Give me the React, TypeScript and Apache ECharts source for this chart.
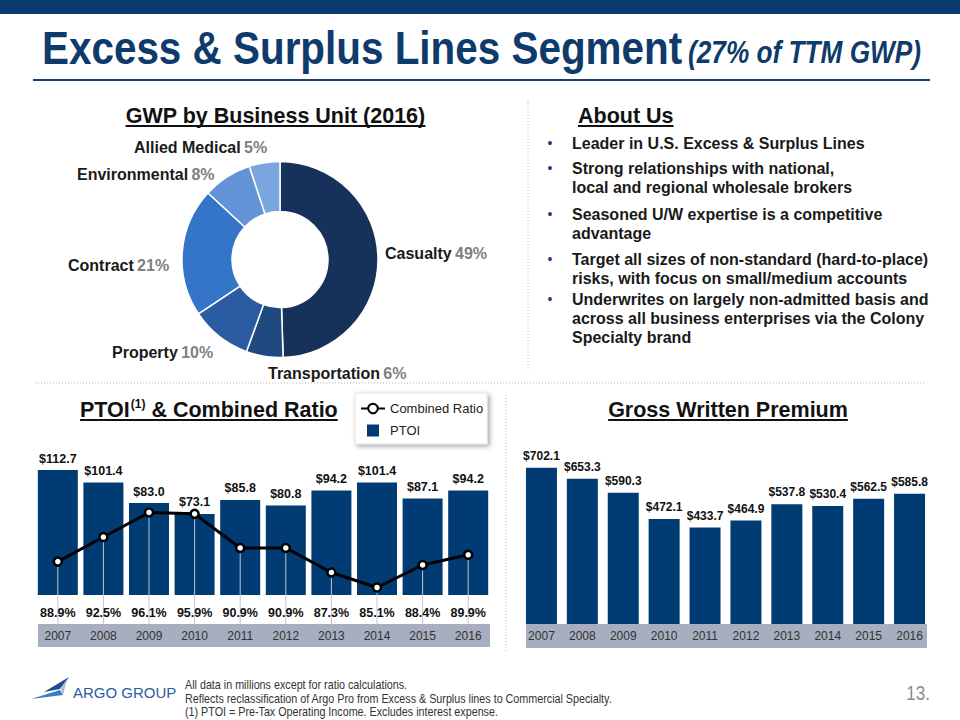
import React, { useEffect, useRef } from 'react';
import * as echarts from 'echarts';

const FONT = "'Liberation Sans', Arial, Helvetica, sans-serif";

// ---- Data ----
const unitNames = ['Casualty', 'Transportation', 'Property', 'Contract', 'Environmental', 'Allied Medical'];
const unitShares = [49, 6, 10, 21, 8, 5];
const unitColors = ['#17325A', '#1F4A80', '#2B5CA1', '#3475C7', '#6193D6', '#7AA5DE'];

const years = ['2007', '2008', '2009', '2010', '2011', '2012', '2013', '2014', '2015', '2016'];
const ptoi = [112.7, 101.4, 83.0, 73.1, 85.8, 80.8, 94.2, 101.4, 87.1, 94.2];
const combinedRatio = [88.9, 92.5, 96.1, 95.9, 90.9, 90.9, 87.3, 85.1, 88.4, 89.9];
const gwp = [702.1, 653.3, 590.3, 472.1, 433.7, 464.9, 537.8, 530.4, 562.5, 585.8];

const aboutBullets = [
  ['Leader in U.S. Excess & Surplus Lines'],
  ['Strong relationships with national,', 'local and regional wholesale brokers'],
  ['Seasoned U/W expertise is a competitive', 'advantage'],
  ['Target all sizes of non-standard (hard-to-place)', 'risks, with focus on small/medium accounts'],
  ['Underwrites on largely non-admitted basis and', 'across all business enterprises via the Colony', 'Specialty brand'],
];

const footnotes = [
  'All data in millions except for ratio calculations.',
  'Reflects reclassification of Argo Pro from Excess & Surplus lines to Commercial Specialty.',
  '(1) PTOI = Pre-Tax Operating Income. Excludes interest expense.',
];

// label layout positions (left x, centre y) for donut labels
const unitLabelPos = [
  [385, 253],
  [268, 373],
  [112, 352],
  [68, 265],
  [77, 174],
  [134, 147],
];
const bulletLineY = [[143], [168, 187], [214, 233], [259, 278], [299, 318, 337]];

const NAVY = '#003B73';
const BAND = '#A7AEC0';

function measure(text: string, font: string): number {
  const c = document.createElement('canvas').getContext('2d');
  if (!c) return text.length * 8;
  c.font = font;
  return c.measureText(text).width;
}

function buildGraphic(): any[] {
  const el: any[] = [];
  // top bar
  el.push({ type: 'rect', shape: { x: 0, y: 0, width: 960, height: 14 }, style: { fill: '#0B3A6E' } });

  // title
  const tMain = 'Excess & Surplus Lines Segment';
  const tSub = '(27% of TTM GWP)';
  const wMain = measure(tMain, `bold 47px ${FONT}`);
  const wSub = measure(tSub, `italic bold 31px ${FONT}`);
  el.push({
    type: 'text', x: 42, y: 47, scaleX: 640 / wMain,
    style: { text: tMain, fill: '#0E3A6C', fontSize: 47, fontWeight: 'bold', fontFamily: FONT, align: 'left', verticalAlign: 'middle' },
  });
  el.push({
    type: 'text', x: 688, y: 52, scaleX: 233 / wSub,
    style: { text: tSub, fill: '#0E3A6C', fontSize: 31, fontWeight: 'bold', fontStyle: 'italic', fontFamily: FONT, align: 'left', verticalAlign: 'middle' },
  });
  el.push({ type: 'line', shape: { x1: 33, y1: 80, x2: 930, y2: 80 }, style: { stroke: '#1B3F6E', lineWidth: 2 } });

  // headings
  const HF = 21.5;
  const headFont = `bold ${HF}px ${FONT}`;
  const heading = (text: string, x: number, y: number, align: 'left' | 'center', uy: number) => {
    const w = measure(text, headFont);
    const x0 = align === 'center' ? x - w / 2 : x;
    el.push({ type: 'text', x, y, style: { text, fill: '#111', fontSize: HF, fontWeight: 'bold', fontFamily: FONT, align, verticalAlign: 'middle' } });
    el.push({ type: 'line', shape: { x1: x0, y1: uy, x2: x0 + w, y2: uy }, style: { stroke: '#111', lineWidth: 2 } });
  };
  heading('GWP by Business Unit (2016)', 275.5, 116, 'center', 126);
  heading('About Us', 578, 116, 'left', 126);
  heading('Gross Written Premium', 728, 410, 'center', 420);

  // PTOI heading with superscript
  {
    const x0 = 80;
    const w1 = measure('PTOI', headFont);
    const w2 = measure('(1)', `bold 12px ${FONT}`);
    const t3 = ' & Combined Ratio';
    const w3 = measure(t3, headFont);
    el.push({ type: 'text', x: x0, y: 410, style: { text: 'PTOI', fill: '#111', fontSize: HF, fontWeight: 'bold', fontFamily: FONT, verticalAlign: 'middle' } });
    el.push({ type: 'text', x: x0 + w1 + 1, y: 404, style: { text: '(1)', fill: '#111', fontSize: 12, fontWeight: 'bold', fontFamily: FONT, verticalAlign: 'middle' } });
    el.push({ type: 'text', x: x0 + w1 + w2 + 1, y: 410, style: { text: t3, fill: '#111', fontSize: HF, fontWeight: 'bold', fontFamily: FONT, verticalAlign: 'middle' } });
    el.push({ type: 'line', shape: { x1: x0, y1: 420, x2: x0 + w1 + w2 + 1 + w3, y2: 420 }, style: { stroke: '#111', lineWidth: 2 } });
  }

  // dotted separators
  const dot = { stroke: '#B8B8B8', lineWidth: 1, lineDash: [1, 2] };
  el.push({ type: 'line', shape: { x1: 528, y1: 100, x2: 528, y2: 372 }, style: dot });
  el.push({ type: 'line', shape: { x1: 35, y1: 383, x2: 925, y2: 383 }, style: dot });
  el.push({ type: 'line', shape: { x1: 506, y1: 395, x2: 506, y2: 652 }, style: dot });

  // donut labels
  unitNames.forEach((n, i) => {
    el.push({
      type: 'text', x: unitLabelPos[i][0], y: unitLabelPos[i][1],
      style: {
        text: `{n|${n}} {p|${unitShares[i]}%}`, align: 'left', verticalAlign: 'middle',
        rich: {
          n: { fontSize: 16, fontWeight: 'bold', fill: '#1A1A1A', fontFamily: FONT },
          p: { fontSize: 16, fontWeight: 'bold', fill: '#7F7F7F', fontFamily: FONT },
        },
      },
    });
  });

  // bullets
  aboutBullets.forEach((lines, bi) => {
    el.push({ type: 'text', x: 550, y: bulletLineY[bi][0], style: { text: '•', fill: '#1F3B70', fontSize: 14, fontFamily: FONT, align: 'center', verticalAlign: 'middle' } });
    lines.forEach((ln, li) => {
      el.push({ type: 'text', x: 572, y: bulletLineY[bi][li], style: { text: ln, fill: '#1A1A1A', fontSize: 16, fontWeight: 'bold', fontFamily: FONT, verticalAlign: 'middle' } });
    });
  });

  // category bands
  el.push({ type: 'rect', z: -10, shape: { x: 38, y: 624, width: 452, height: 23 }, style: { fill: BAND } });
  el.push({ type: 'rect', z: -10, shape: { x: 526, y: 624, width: 401, height: 24 }, style: { fill: BAND } });

  // footer logo
  el.push({ type: 'polygon', shape: { points: [[69, 677], [44, 692], [60, 689]] }, style: { fill: '#1D4E96' } });
  el.push({ type: 'polygon', shape: { points: [[60, 690], [31, 699], [63, 695]] }, style: { fill: '#3A7CC9' } });
  el.push({ type: 'polygon', shape: { points: [[69, 677], [61, 689], [63, 695], [66, 683]] }, style: { fill: '#A9B9CD' } });
  el.push({ type: 'text', x: 73, y: 692, style: { text: 'ARGO GROUP', fill: '#2C5C9E', fontSize: 15, fontFamily: FONT, verticalAlign: 'middle' } });

  // footnotes
  const fnFont = `12px ${FONT}`;
  const fnScale = 428 / measure(footnotes[1], fnFont);
  const fnY = [685, 699, 712];
  footnotes.forEach((t, i) => {
    el.push({ type: 'text', x: 185, y: fnY[i], scaleX: fnScale, style: { text: t, fill: '#333', fontSize: 12, fontFamily: FONT, verticalAlign: 'middle' } });
  });
  el.push({ type: 'text', x: 930, y: 693, scaleX: 0.85, style: { text: '13.', fill: '#8C8C8C', fontSize: 20, fontFamily: FONT, align: 'right', verticalAlign: 'middle' } });

  return el;
}

const crMin = 84;
const crMax = 103.5;

export default function App() {
  const ref = useRef<HTMLDivElement>(null);
  useEffect(() => {
    if (!ref.current) return;
    const chart = echarts.init(ref.current, undefined, { renderer: 'svg' });
    const option: any = {
      animation: false,
      textStyle: { fontFamily: FONT },
      legend: {
        left: 355, top: 393, orient: 'vertical',
        itemWidth: 24, itemHeight: 12, itemGap: 9,
        padding: [9, 4, 7, 5],
        backgroundColor: '#fff', borderColor: '#E2E2E2', borderWidth: 1,
        shadowBlur: 5, shadowColor: 'rgba(0,0,0,0.35)', shadowOffsetX: 2, shadowOffsetY: 2,
        textStyle: { fontSize: 13, color: '#222', fontFamily: FONT },
        selectedMode: false,
        data: [{ name: 'Combined Ratio' }, { name: 'PTOI', icon: 'path://M0,0H10V10H0Z' }],
      },
      grid: [
        { left: 35, top: 462, width: 456, height: 133 },
        { left: 521, top: 446, width: 409, height: 178 },
      ],
      xAxis: [
        {
          type: 'category', gridIndex: 0, data: years, z: 10,
          axisLine: { show: false }, axisTick: { show: false },
          axisLabel: { margin: 35, fontSize: 12, color: '#333', fontFamily: FONT },
        },
        {
          type: 'category', gridIndex: 1, data: years, z: 10,
          axisLine: { show: false }, axisTick: { show: false },
          axisLabel: { margin: 6, fontSize: 12, color: '#333', fontFamily: FONT },
        },
      ],
      yAxis: [
        { type: 'value', gridIndex: 0, min: 0, max: 120, show: false },
        { type: 'value', gridIndex: 0, min: crMin, max: crMax, show: false },
        { type: 'value', gridIndex: 1, min: 0, max: 800, show: false },
      ],
      graphic: { elements: buildGraphic() },
      series: [
        {
          type: 'pie', name: 'GWP by Business Unit', center: [280, 259.5], radius: [48, 98],
          startAngle: 90, clockwise: true, silent: true,
          label: { show: false }, labelLine: { show: false },
          itemStyle: { borderColor: '#fff', borderWidth: 1.5 },
          data: unitNames.map((n, i) => ({ name: n, value: unitShares[i], itemStyle: { color: unitColors[i] } })),
        },
        {
          type: 'bar', name: 'PTOI', xAxisIndex: 0, yAxisIndex: 0, data: ptoi, barWidth: 40, z: 1,
          itemStyle: { color: NAVY }, silent: true,
          label: {
            show: true, position: 'top', distance: 5, fontSize: 12.5, fontWeight: 'bold', color: '#111', fontFamily: FONT,
            formatter: (p: any) => '$' + Number(p.value).toFixed(1),
          },
        },
        {
          type: 'custom', name: 'CR drop', xAxisIndex: 0, yAxisIndex: 1, z: 2, clip: false, silent: true,
          data: combinedRatio.map((v, i) => [i, v]),
          renderItem: (params: any, api: any) => {
            const idx = api.value(0);
            const v = api.value(1);
            const p = api.coord([idx, v]);
            const base = api.coord([idx, crMin]);
            return {
              type: 'group',
              children: [
                { type: 'line', shape: { x1: p[0], y1: p[1], x2: p[0], y2: base[1] + 29 }, style: { stroke: '#BFC6D3', lineWidth: 1 } },
                {
                  type: 'text', x: p[0], y: base[1] + 18,
                  style: { text: v.toFixed(1) + '%', fill: '#111', fontSize: 12.5, fontWeight: 'bold', fontFamily: FONT, align: 'center', verticalAlign: 'middle' },
                },
              ],
            };
          },
        },
        {
          type: 'line', name: 'Combined Ratio', xAxisIndex: 0, yAxisIndex: 1, data: combinedRatio, z: 3, silent: true,
          symbol: 'circle', symbolSize: 8,
          lineStyle: { color: '#000', width: 3 },
          itemStyle: { color: '#fff', borderColor: '#000', borderWidth: 2.5 },
        },
        {
          type: 'bar', name: 'GWP', xAxisIndex: 1, yAxisIndex: 2, data: gwp, barWidth: 31,
          itemStyle: { color: NAVY }, silent: true,
          label: {
            show: true, position: 'top', distance: 6, fontSize: 12, fontWeight: 'bold', color: '#111', fontFamily: FONT,
            formatter: (p: any) => '$' + Number(p.value).toFixed(1),
          },
        },
      ],
    };
    chart.setOption(option);
    return () => chart.dispose();
  }, []);
  return <div ref={ref} style={{ position: 'absolute', left: 0, top: 0, width: 960, height: 720, background: '#fff' }} />;
}
